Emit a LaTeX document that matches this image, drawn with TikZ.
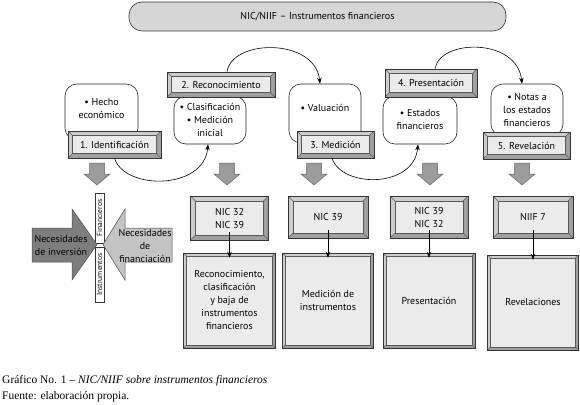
\documentclass[tikz,border=0pt]{standalone}
\usepackage{fontspec}
\setmainfont{PT Sans}
\newfontfamily\capfont{Liberation Serif}
\usetikzlibrary{arrows.meta}

\definecolor{titlegray}{HTML}{D6D6D6}
\definecolor{facegray}{HTML}{EBEBEB}
\definecolor{bevellight}{HTML}{CDCDCD}
\definecolor{beveldark}{HTML}{A0A0A0}
\definecolor{arrowgray}{HTML}{9C9C9C}
\definecolor{darkarrow}{HTML}{7E7E7E}
\definecolor{lightarrow}{HTML}{C4C4C4}

\begin{document}
\begin{tikzpicture}[x=1pt, y=-1pt, font=\fontsize{10}{13}\selectfont,
  titlebox/.style={draw=black!80, line width=0.6pt, fill=titlegray, rounded corners=13pt},
  roundbox/.style={draw=black!85, line width=0.6pt, fill=white, rounded corners=12pt, align=center, inner sep=0pt},
  bevelbox/.style={draw=black!80, line width=0.5pt, fill=bevellight, align=center, inner sep=0pt,
    path picture={
      \fill[beveldark] (path picture bounding box.south west) -- (path picture bounding box.south east)
        -- (path picture bounding box.north east) -- ([shift={(-#1,-#1)}]path picture bounding box.north east)
        -- ([shift={(-#1,#1)}]path picture bounding box.south east) -- ([shift={(#1,#1)}]path picture bounding box.south west) -- cycle;
      \filldraw[fill=facegray, draw=black!65, line width=0.4pt] ([shift={(#1,#1)}]path picture bounding box.south west)
        rectangle ([shift={(-#1,-#1)}]path picture bounding box.north east);
      \draw[black!65, line width=0.4pt] (path picture bounding box.south west) -- ++(#1,#1)
        (path picture bounding box.south east) -- ++(-#1,#1)
        (path picture bounding box.north east) -- ++(-#1,-#1)
        (path picture bounding box.north west) -- ++(#1,-#1);
    }},
  bevelbox/.default=4.5pt,
  blockarrow/.style={fill=arrowgray, draw=black!60, line width=0.5pt},
  curvearrow/.style={line width=0.6pt, -{Stealth[length=6pt, width=4.5pt]}},
  thinarrow/.style={line width=0.5pt, -{Stealth[length=6pt, width=4.5pt]}}]
  \useasboundingbox (0, 0) rectangle (580, 404);

  \node (title) at (317.5, 16.5) [titlebox, minimum width=377, minimum height=29]{NIC/NIIF – Instrumentos financieros};

  % pasos del proceso
  \node (hecho) at (101.5, 112) [roundbox, minimum width=73, minimum height=56, text depth=8pt]{• Hecho\\económico};
  \node (clasif) at (210, 120) [roundbox, minimum width=72, minimum height=48]{• Clasificación\\• Medición\\inicial};
  \node (valu) at (325, 113.5) [roundbox, minimum width=72, minimum height=59, text depth=12pt]{• Valuación};
  \node (estados) at (420, 120) [roundbox, minimum width=74, minimum height=48]{• Estados\\financieros};
  \node (notas) at (527, 110) [roundbox, minimum width=72, minimum height=52]{• Notas a\\los estados\\financieros};

  \node (ident) at (114.5, 144.5) [bevelbox, minimum width=93, minimum height=27]{1. Identificación};
  \node (reco) at (221, 84.5) [bevelbox, minimum width=108, minimum height=25]{2. Reconocimiento};
  \node (medi) at (335.5, 144.5) [bevelbox, minimum width=77, minimum height=27]{3. Medición};
  \node (pres) at (431, 83) [bevelbox, minimum width=92, minimum height=28]{4. Presentación};
  \node (reve) at (526.5, 145.5) [bevelbox, minimum width=87, minimum height=27]{5. Revelación};

  \draw[curvearrow] ([xshift=6pt]reco.north) .. controls +(5, -33) and +(-5, -46) .. ([xshift=-5pt]valu.north);
  \draw[curvearrow] ([xshift=4pt]pres.north) .. controls +(5, -30) and +(-5, -46) .. ([xshift=-5pt]notas.north);
  \draw[curvearrow] (ident.south) .. controls +(10, 32) and +(-4, 46) .. ([xshift=-2pt]clasif.south);
  \draw[curvearrow] ([xshift=-3.5pt]medi.south) .. controls +(10, 30) and +(-4, 44) .. ([xshift=-2pt]estados.south);

  \foreach \x in {97, 227, 314, 430, 522}
    \filldraw[blockarrow] (\x-7.5, 163) -- (\x+7.5, 163) -- (\x+7.5, 174) -- (\x+13, 174)
      -- (\x, 185) -- (\x-13, 174) -- (\x-7.5, 174) -- cycle;

  % normas
  \node (nicA) at (229.5, 218) [bevelbox=5pt, minimum width=78, minimum height=44]{NIC 32\\NIC 39};
  \node (nicB) at (328, 217) [bevelbox=5pt, minimum width=80, minimum height=42]{NIC 39};
  \node (nicC) at (429, 217) [bevelbox=5pt, minimum width=78, minimum height=42]{NIC 39\\NIC 32};
  \node (nicD) at (533, 217) [bevelbox=5pt, minimum width=80, minimum height=42]{NIIF 7};

  \node (bigA) at (229.5, 300.5) [bevelbox=3pt, minimum width=92, minimum height=95]{Reconocimiento,\\clasificación\\y baja de\\instrumentos\\financieros};
  \node (bigB) at (328, 300.5) [bevelbox=3pt, minimum width=91, minimum height=95]{Medición de\\instrumentos};
  \node (bigC) at (429, 300.5) [bevelbox=3pt, minimum width=92, minimum height=95]{Presentación};
  \node (bigD) at (533, 302.5) [bevelbox=3pt, minimum width=91, minimum height=95]{Revelaciones};

  \draw[thinarrow] ([yshift=8pt]nicA.south) -- ([yshift=-5pt]bigA.north);
  \draw[thinarrow] ([yshift=8pt]nicB.south) -- ([yshift=-5pt]bigB.north);
  \draw[thinarrow] ([yshift=8pt]nicC.south) -- ([yshift=-5pt]bigC.north);
  \draw[thinarrow] ([yshift=8pt]nicD.south) -- ([yshift=-5pt]bigD.north);

  % mercado
  \node (finl) at (99.5, 218) [draw=black!80, line width=0.5pt, fill=white, rotate=90, inner sep=0.5pt,
    minimum width=50, minimum height=9, font=\fontsize{7.5}{8}\selectfont]{Financieros};
  \node (instr) at (99.5, 274.5) [draw=black!80, line width=0.5pt, fill=white, rotate=90, inner sep=0.5pt,
    minimum width=55, minimum height=9, font=\fontsize{7.5}{8}\selectfont]{Instrumentos};
  \filldraw[fill=darkarrow, draw=black!70, line width=0.5pt] (32, 228) -- (72, 228) -- (72, 209) -- (97, 244.5)
    -- (72, 280) -- (72, 262) -- (32, 262) -- cycle;
  \filldraw[fill=lightarrow, draw=black!70, line width=0.5pt] (172, 228) -- (125, 228) -- (125, 209) -- (103, 244.5)
    -- (125, 280) -- (125, 262) -- (172, 262) -- cycle;
  \node (inv) at (61, 246) [align=center]{Necesidades\\de inversión};
  \node (fin) at (145, 246) [align=center]{Necesidades\\de\\financiación};

  \node (cap1) at (2, 381) [anchor=west, inner sep=0pt, font=\capfont\fontsize{11.5}{13}\selectfont]{Gráfico No. 1 – \textit{NIC/NIIF sobre instrumentos financieros}};
  \node (cap2) at (2, 397) [anchor=west, inner sep=0pt, font=\capfont\fontsize{11.5}{13}\selectfont]{Fuente: elaboración propia.};
\end{tikzpicture}
\end{document}
